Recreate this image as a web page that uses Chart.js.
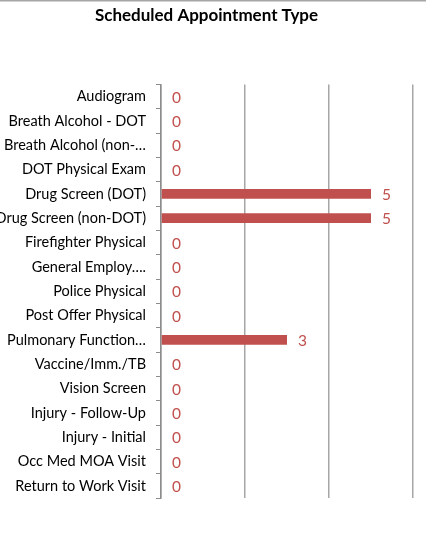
<!DOCTYPE html>
<html>
<head>
<meta charset="utf-8">
<script src="https://cdn.jsdelivr.net/npm/chart.js@4"></script>
<style>
  html, body { margin: 0; padding: 0; background: #fff; }
  #wrap { width: 426px; height: 535px; position: relative; }
</style>
</head>
<body>
<div id="wrap"><canvas id="chart"></canvas></div>
<script>
const categories = [
  "Audiogram",
  "Breath Alcohol - DOT",
  "Breath Alcohol (non-…",
  "DOT Physical Exam",
  "Drug Screen (DOT)",
  "Drug Screen (non-DOT)",
  "Firefighter Physical",
  "General Employ….",
  "Police Physical",
  "Post Offer Physical",
  "Pulmonary Function…",
  "Vaccine/Imm./TB",
  "Vision Screen",
  "Injury - Follow-Up",
  "Injury - Initial",
  "Occ Med MOA Visit",
  "Return to Work Visit",
];
const counts = [0, 0, 0, 0, 5, 5, 0, 0, 0, 0, 3, 0, 0, 0, 0, 0, 0];

const barColor = "#C0504D";
const fontFamily = "Lato, 'Open Sans', sans-serif";

// draws the count to the right of each bar
const valueLabels = {
  id: "valueLabels",
  afterDatasetsDraw(chart) {
    const ctx = chart.ctx;
    const meta = chart.getDatasetMeta(0);
    ctx.save();
    ctx.fillStyle = barColor;
    ctx.font = "15.5px " + fontFamily;
    ctx.textBaseline = "middle";
    ctx.textAlign = "left";
    meta.data.forEach((bar, i) => {
      ctx.fillText(String(counts[i]), bar.x + 11, bar.y + 1);
    });
    ctx.restore();
  },
};

const topRule = {
  id: "topRule",
  beforeDraw(chart) {
    const ctx = chart.ctx;
    ctx.save();
    ctx.fillStyle = "#a6a6a6";
    ctx.fillRect(0, 0, chart.width, 1.5);
    ctx.restore();
  },
};

new Chart(document.getElementById("chart"), {
  type: "bar",
  data: {
    labels: categories,
    datasets: [
      {
        data: counts,
        backgroundColor: barColor,
        barPercentage: 0.4,
        categoryPercentage: 1,
      },
    ],
  },
  plugins: [valueLabels, topRule],
  options: {
    indexAxis: "y",
    responsive: true,
    maintainAspectRatio: false,
    animation: false,
    layout: { padding: { left: 0, right: 13, top: 0, bottom: 37 } },
    scales: {
      x: {
        min: 0,
        max: 6,
        ticks: { display: false, stepSize: 2 },
        grid: { color: "#a6a6a6", lineWidth: 1.5, drawTicks: false },
        border: { display: false },
      },
      y: {
        afterFit: (scale) => {
          scale.width = 161;
        },
        ticks: {
          color: "#000",
          padding: 10,
          font: { family: fontFamily, size: 14.5 },
        },
        grid: {
          offset: true,
          drawOnChartArea: false,
          drawTicks: true,
          tickLength: 5,
          color: "#8c8c8c",
        },
        border: { color: "#8c8c8c", width: 1.5 },
      },
    },
    plugins: {
      legend: { display: false },
      tooltip: { enabled: false },
      title: {
        display: true,
        text: "Scheduled Appointment Type",
        color: "#000",
        font: { family: fontFamily, size: 17, weight: "bold" },
        padding: { top: 5, bottom: 59 },
      },
    },
  },
});
</script>
</body>
</html>
